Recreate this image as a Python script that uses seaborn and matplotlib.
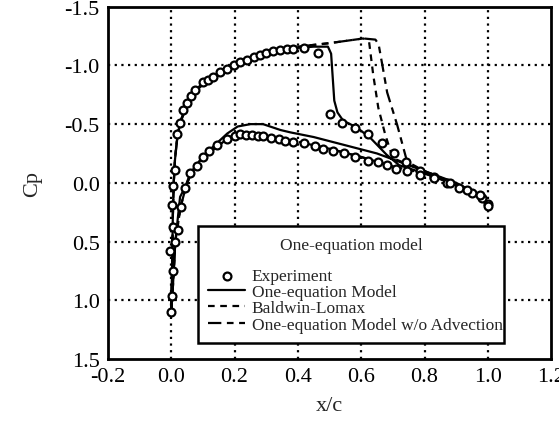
import matplotlib
matplotlib.use("Agg")
import matplotlib.pyplot as plt
import seaborn as sns
import pandas as pd

# Experiment, suction side (leading edge -> trailing edge)
exp_up_x = [0.0, 0.003, 0.006, -0.003, 0.006, 0.003, 0.006, 0.013, 0.019, 0.028, 0.038,
            0.05, 0.063, 0.076, 0.1, 0.115, 0.133, 0.155, 0.177, 0.198, 0.218, 0.24,
            0.26, 0.28, 0.30, 0.32, 0.345, 0.365, 0.386, 0.42, 0.465, 0.502, 0.54,
            0.58, 0.622, 0.667, 0.705, 0.74, 0.787, 0.83, 0.87, 0.91, 0.95, 0.98, 1.0]
exp_up_cp = [1.1, 0.96, 0.75, 0.58, 0.38, 0.19, 0.03, -0.11, -0.42, -0.51, -0.62,
             -0.68, -0.74, -0.79, -0.86, -0.88, -0.90, -0.94, -0.97, -1.0, -1.03, -1.05,
             -1.07, -1.09, -1.11, -1.12, -1.13, -1.14, -1.14, -1.15, -1.11, -0.59, -0.51,
             -0.47, -0.42, -0.34, -0.25, -0.18, -0.10, -0.05, 0.0, 0.04, 0.09, 0.13, 0.18]

# Experiment, pressure side
exp_lo_x = [0.013, 0.02, 0.03, 0.044, 0.06, 0.08, 0.10, 0.12, 0.145, 0.177, 0.2, 0.218,
            0.237, 0.255, 0.275, 0.29, 0.315, 0.34, 0.36, 0.386, 0.42, 0.455, 0.48,
            0.51, 0.545, 0.58, 0.62, 0.654, 0.68, 0.71, 0.745, 0.787, 0.83, 0.88,
            0.935, 0.976, 1.0]
exp_lo_cp = [0.5, 0.40, 0.21, 0.04, -0.08, -0.14, -0.22, -0.27, -0.32, -0.37, -0.40, -0.42,
             -0.41, -0.41, -0.40, -0.40, -0.38, -0.37, -0.36, -0.35, -0.34, -0.31, -0.29,
             -0.27, -0.25, -0.22, -0.19, -0.18, -0.15, -0.12, -0.10, -0.07, -0.04, 0.0,
             0.06, 0.10, 0.20]

# One-equation model
one_x = [1.0, 0.97, 0.9, 0.8, 0.72, 0.68, 0.63, 0.587, 0.543, 0.525, 0.515, 0.51, 0.505,
         0.495, 0.45, 0.4, 0.32, 0.25, 0.18, 0.12, 0.08, 0.05, 0.03, 0.02, 0.012, 0.008,
         0.005, 0.003, 0.0, 0.005, 0.013, 0.028, 0.045, 0.06, 0.09, 0.133, 0.177, 0.21,
         0.25, 0.29, 0.345, 0.376, 0.45, 0.55, 0.65, 0.72, 0.8, 0.9, 0.97, 1.0]
one_cp = [0.2, 0.1, 0.02, -0.08, -0.15, -0.24, -0.38, -0.47, -0.53, -0.6, -0.7, -0.9, -1.1,
          -1.16, -1.16, -1.15, -1.11, -1.05, -0.97, -0.88, -0.79, -0.66, -0.52, -0.4, -0.2, 0.0,
          0.3, 0.7, 1.1, 0.9, 0.5, 0.12, 0.03, -0.08, -0.19, -0.31, -0.42, -0.48,
          -0.50, -0.50, -0.45, -0.43, -0.39, -0.32, -0.25, -0.18, -0.10, 0.0, 0.1, 0.2]

# Baldwin-Lomax
bl_x = [1.0, 0.97, 0.9, 0.8, 0.70, 0.676, 0.654, 0.638, 0.625, 0.607, 0.5, 0.4, 0.3, 0.25,
        0.18, 0.12, 0.08, 0.05, 0.03, 0.02, 0.012, 0.008, 0.005, 0.003, 0.0, 0.005, 0.013,
        0.03, 0.05, 0.07, 0.10, 0.145, 0.186, 0.218, 0.26, 0.3, 0.4, 0.5, 0.6, 0.7, 0.8,
        0.9, 0.97, 1.0]
bl_cp = [0.2, 0.1, 0.01, -0.1, -0.21, -0.41, -0.64, -0.92, -1.2, -1.23, -1.19, -1.16, -1.12,
         -1.06, -0.98, -0.89, -0.8, -0.67, -0.53, -0.41, -0.21, 0.0, 0.3, 0.7, 1.1, 0.9, 0.5,
         0.2, 0.0, -0.11, -0.21, -0.31, -0.39, -0.42, -0.42, -0.40, -0.35, -0.29, -0.22,
         -0.14, -0.08, 0.01, 0.1, 0.2]

# One-equation model without advection
noadv_x = [1.0, 0.97, 0.9, 0.8, 0.745, 0.714, 0.682, 0.667, 0.655, 0.645, 0.607, 0.5, 0.4,
           0.3, 0.25, 0.18, 0.12, 0.08, 0.05, 0.03, 0.02, 0.012, 0.008, 0.005, 0.003, 0.0,
           0.005, 0.013, 0.03, 0.05, 0.07, 0.10, 0.145, 0.186, 0.218, 0.26, 0.3, 0.4, 0.5,
           0.6, 0.7, 0.8, 0.9, 0.97, 1.0]
noadv_cp = [0.2, 0.1, 0.01, -0.1, -0.18, -0.49, -0.77, -1.0, -1.18, -1.22, -1.23, -1.19,
            -1.16, -1.12, -1.06, -0.98, -0.89, -0.8, -0.67, -0.53, -0.41, -0.21, 0.0, 0.3,
            0.7, 1.1, 0.9, 0.5, 0.2, 0.0, -0.11, -0.21, -0.31, -0.39, -0.42, -0.42, -0.40,
            -0.35, -0.29, -0.22, -0.14, -0.08, 0.01, 0.1, 0.2]

x_ticks = [-0.2, 0.0, 0.2, 0.4, 0.6, 0.8, 1.0, 1.2]
y_ticks = [-1.5, -1.0, -0.5, 0.0, 0.5, 1.0, 1.5]

sns.set_style("white")
plt.rcParams["font.family"] = ["Liberation Serif", "DejaVu Serif"]
plt.rcParams["axes.unicode_minus"] = False

fig, ax = plt.subplots(figsize=(5.59, 4.31), dpi=100)
fig.subplots_adjust(left=0.193, right=0.986, bottom=0.165, top=0.982)

# dotted grid, drawn under the data
for xv in x_ticks[1:-1]:
    ax.axvline(xv, color="black", lw=1.6, ls=(0, (1, 2.0)), zorder=0)
for yv in y_ticks[1:-1]:
    ax.axhline(yv, color="black", lw=1.6, ls=(0, (1, 2.0)), zorder=0)

exp_df = pd.DataFrame({"x": exp_up_x + exp_lo_x, "cp": exp_up_cp + exp_lo_cp})
sns.scatterplot(data=exp_df, x="x", y="cp", ax=ax, marker="o", s=32,
                facecolor="white", edgecolor="black", linewidth=1.6,
                label="Experiment", zorder=3)

line_sets = [
    (one_x, one_cp, "One-equation Model", "-"),
    (bl_x, bl_cp, "Baldwin-Lomax", (0, (3, 2.5))),
    (noadv_x, noadv_cp, "One-equation Model w/o Advection", (0, (6, 2.5, 3, 2.5))),
]
for xs, cps, name, style in line_sets:
    df = pd.DataFrame({"x": xs, "cp": cps})
    sns.lineplot(data=df, x="x", y="cp", ax=ax, sort=False, estimator=None,
                 color="black", lw=1.6, linestyle=style, label=name, zorder=2)

ax.set_xlim(-0.2, 1.2)
ax.set_ylim(1.5, -1.5)
ax.set_xticks(x_ticks)
ax.set_yticks(y_ticks)
ax.set_xticklabels([f"{v:.1f}" for v in x_ticks])
ax.set_yticklabels([f"{v:.1f}" for v in y_ticks])
ax.tick_params(axis="both", labelsize=16, direction="out", length=5, width=1.2,
               color="black", labelcolor="black", pad=1)
ax.set_xlabel("x/c", fontsize=16, labelpad=7)
ax.set_ylabel("Cp", fontsize=16, labelpad=16)
for sp in ax.spines.values():
    sp.set_color("black")
    sp.set_linewidth(2)

leg = ax.legend(loc="lower left", bbox_to_anchor=(0.203, 0.045, 0.691, 0.325),
                mode="expand", title="One-equation model", fontsize=12.5,
                title_fontsize=12.5, frameon=True, fancybox=False, framealpha=1,
                edgecolor="black", handlelength=2.1, handletextpad=0.4,
                labelspacing=0.0, borderpad=0.6, borderaxespad=0)
leg.get_frame().set_linewidth(1.8)
leg._legend_box.sep = 11  # extra room between title and entries

fig.savefig("out.png", dpi=100)
